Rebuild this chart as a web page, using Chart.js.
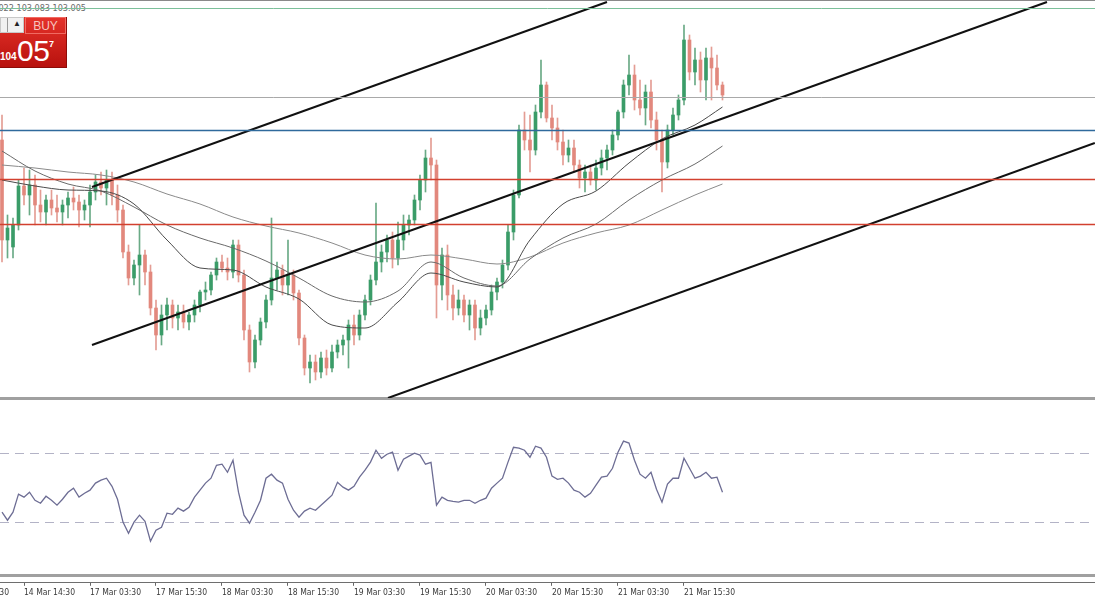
<!DOCTYPE html>
<html><head><meta charset="utf-8">
<script src="https://cdn.jsdelivr.net/npm/chart.js@4.4.1/dist/chart.umd.min.js"></script>
<style>
html,body{margin:0;padding:0;background:#fff;}
#wrap{position:relative;width:1095px;height:600px;overflow:hidden;background:#fff;}
canvas{position:absolute;left:0;}
#cMain{top:0;z-index:2}
#cRsi{top:400px;z-index:2}
#cAxis{top:540px;z-index:3}
.band{position:absolute;left:0;width:1095px;z-index:1}
#hdr{position:absolute;top:3px;right:1009px;white-space:nowrap;font:9px "DejaVu Sans Condensed","Liberation Sans Narrow",sans-serif;color:#6a6a6a;z-index:1}
#trade{position:absolute;left:0;top:17px;width:66px;height:50px;background:linear-gradient(#e5322a,#b8120e);border-bottom:1px solid #8e0c08;border-right:1px solid #8e0c08;z-index:5;font-family:"Liberation Sans",sans-serif;color:#fff;}
#spin{position:absolute;left:0;top:0;width:24px;height:16px;background:#f1f1f1;border:1px solid #c8c8c8;box-sizing:border-box}
#spin .sep{position:absolute;left:6px;top:0;width:1px;height:14px;background:#999}
#spin .up{position:absolute;left:12px;top:1px;font-size:8px;color:#222}
#buy{position:absolute;left:25px;top:0;width:41px;height:17px;box-sizing:border-box;border:1px solid #f06a62;text-align:center;line-height:16px;font-size:12px;color:#f7c4bf}
#p1{position:absolute;left:0;top:34px;font-size:10px;font-weight:bold}
#p2{position:absolute;left:17px;top:17px;font-size:30px;font-weight:300;letter-spacing:-0.5px}
#p3{position:absolute;left:49px;top:22px;font-size:9px;font-weight:bold}
</style></head>
<body><div id="wrap">
<div class="band" style="top:0;height:1px;background:#8a8a8a"></div>
<div id="hdr">103.022 103.083 103.005</div>
<div id="trade"><div id="spin"><div class="sep"></div><div class="up">&#9650;</div></div><div id="buy">BUY</div><div id="p1">104</div><div id="p2">05</div><div id="p3">7</div></div>
<canvas id="cMain" width="1095" height="398"></canvas>
<div class="band" style="top:397px;height:3px;background:#a0a0a0"></div>
<canvas id="cRsi" width="1095" height="175"></canvas>
<div class="band" style="top:574px;height:3px;background:#a0a0a0"></div>
<canvas id="cAxis" width="1095" height="60"></canvas>
</div>
<script>
// ---- data (H1 candles, index 0 .. 131) ----
const openP = [
103.910,103.610,103.589,103.655,103.772,103.745,103.775,103.715,103.694,103.730,
103.706,103.694,103.715,103.736,103.724,103.700,103.715,103.754,103.784,103.766,
103.790,103.745,103.700,103.574,103.496,103.535,103.565,103.514,103.406,103.325,
103.385,103.415,103.376,103.394,103.364,103.385,103.415,103.454,103.460,103.505,
103.544,103.526,103.514,103.595,103.505,103.340,103.244,103.310,103.364,103.430,
103.496,103.520,103.475,103.505,103.451,103.316,103.226,103.244,103.214,103.256,
103.226,103.274,103.295,103.310,103.355,103.325,103.385,103.430,103.490,103.544,
103.574,103.610,103.556,103.610,103.655,103.670,103.730,103.790,103.856,103.835,
103.475,103.565,103.445,103.406,103.430,103.385,103.415,103.346,103.376,103.400,
103.454,103.484,103.535,103.634,103.745,103.940,103.910,103.880,103.994,104.075,
103.976,103.946,103.904,103.865,103.886,103.835,103.796,103.814,103.790,103.826,
103.856,103.880,103.925,103.994,104.075,104.105,104.030,104.006,104.054,103.970,
103.910,103.844,103.940,103.985,104.030,104.210,104.114,104.150,104.090,104.156,
104.126,104.075];
const highP = [
103.985,103.685,103.676,103.790,103.826,103.820,103.805,103.760,103.745,103.760,
103.745,103.730,103.754,103.769,103.745,103.730,103.775,103.805,103.814,103.820,
103.814,103.775,103.715,103.595,103.550,103.655,103.580,103.535,103.430,103.415,
103.436,103.430,103.415,103.415,103.394,103.430,103.460,103.484,103.514,103.556,
103.565,103.556,103.610,103.610,103.520,103.355,103.325,103.376,103.445,103.676,
103.544,103.535,103.610,103.520,103.460,103.325,103.265,103.265,103.274,103.280,
103.295,103.310,103.325,103.370,103.385,103.400,103.445,103.505,103.721,103.595,
103.625,103.634,103.664,103.685,103.685,103.745,103.805,103.880,103.916,103.850,
103.586,103.595,103.475,103.460,103.445,103.430,103.430,103.400,103.415,103.475,
103.496,103.550,103.655,103.760,103.955,103.994,103.985,104.015,104.150,104.084,
104.015,103.976,103.940,103.910,103.910,103.850,103.835,103.835,103.850,103.880,
103.895,103.940,104.000,104.090,104.165,104.135,104.090,104.075,104.090,103.994,
103.940,103.955,104.006,104.045,104.255,104.225,104.186,104.174,104.186,104.189,
104.165,104.084];
const lowP = [
103.544,103.556,103.556,103.640,103.715,103.685,103.655,103.664,103.655,103.685,
103.664,103.655,103.676,103.700,103.649,103.670,103.649,103.730,103.745,103.715,
103.715,103.664,103.556,103.475,103.475,103.445,103.475,103.385,103.280,103.295,
103.340,103.346,103.340,103.346,103.340,103.364,103.394,103.430,103.445,103.490,
103.514,103.490,103.496,103.484,103.310,103.214,103.226,103.295,103.346,103.415,
103.460,103.445,103.445,103.430,103.295,103.205,103.181,103.190,103.196,103.205,
103.214,103.256,103.265,103.226,103.295,103.310,103.370,103.415,103.475,103.514,
103.544,103.526,103.535,103.580,103.625,103.655,103.700,103.754,103.790,103.376,
103.430,103.400,103.370,103.385,103.364,103.340,103.310,103.325,103.355,103.385,
103.430,103.466,103.520,103.610,103.736,103.880,103.814,103.865,103.976,103.964,
103.910,103.880,103.835,103.844,103.814,103.766,103.754,103.775,103.760,103.805,
103.820,103.865,103.910,103.976,104.045,104.000,103.985,103.955,103.946,103.880,
103.754,103.826,103.925,103.970,104.015,104.090,104.075,104.054,104.030,104.030,
104.060,104.030];
const closeP = [
103.610,103.646,103.655,103.772,103.745,103.775,103.715,103.694,103.730,103.706,
103.694,103.715,103.736,103.724,103.700,103.715,103.754,103.784,103.766,103.790,
103.745,103.700,103.574,103.496,103.535,103.565,103.514,103.406,103.325,103.385,
103.415,103.376,103.394,103.364,103.385,103.415,103.454,103.460,103.505,103.544,
103.526,103.514,103.595,103.505,103.340,103.244,103.310,103.364,103.430,103.496,
103.520,103.475,103.505,103.451,103.316,103.226,103.244,103.214,103.256,103.226,
103.274,103.295,103.310,103.355,103.325,103.385,103.430,103.490,103.544,103.574,
103.610,103.556,103.610,103.655,103.670,103.730,103.790,103.856,103.835,103.475,
103.565,103.445,103.406,103.430,103.385,103.415,103.346,103.376,103.400,103.454,
103.484,103.535,103.634,103.745,103.940,103.910,103.880,103.994,104.075,103.976,
103.946,103.904,103.865,103.886,103.835,103.796,103.814,103.790,103.826,103.856,
103.880,103.925,103.994,104.075,104.105,104.030,104.006,104.054,103.970,103.910,
103.844,103.940,103.985,104.030,104.210,104.114,104.150,104.090,104.156,104.126,
104.075,104.045];
const rsiValues = [
35.9,31.3,35.9,46.2,44.5,47.3,42.7,41.0,45.0,42.7,
39.9,43.3,47.3,49.6,44.5,46.7,48.5,52.5,54.2,55.3,
50.7,43.3,30.2,23.9,30.2,34.2,30.7,19.3,25.6,27.3,
35.3,34.7,38.2,36.5,38.7,44.5,48.5,52.5,55.3,62.7,
63.3,58.7,65.6,47.3,34.2,29.6,35.9,42.7,55.3,57.6,
54.2,52.5,43.3,37.0,33.0,36.5,38.2,37.0,39.9,42.7,
45.6,53.0,50.2,48.5,50.7,55.9,59.9,64.5,71.3,66.7,
69.0,70.2,59.9,66.2,67.9,69.6,68.5,63.3,64.4,39.9,
44.5,42.7,42.1,41.6,42.7,42.7,41.0,42.7,43.9,49.6,
52.5,55.3,64.5,73.0,72.5,71.3,67.3,73.6,72.5,67.3,
56.5,54.7,55.3,52.5,48.5,47.3,44.5,46.7,51.3,55.9,
56.5,61.0,70.2,76.5,75.4,65.6,57.6,55.3,58.7,49.0,
41.6,51.9,55.3,55.3,66.7,61.0,55.3,56.5,58.7,55.3,
55.9,47.3];
// moving averages read at every 6th candle
const maIndex = [0,6,12,18,24,30,36,42,48,54,60,66,72,78,84,90,96,102,108,114,120,126,131];
const maSlow = [103.835,103.826,103.814,103.805,103.784,103.748,103.718,103.679,103.652,103.631,103.601,103.565,103.553,103.565,103.553,103.538,103.559,103.601,103.631,103.655,103.700,103.745,103.778];
const maMid  = [103.877,103.817,103.778,103.757,103.709,103.655,103.616,103.586,103.547,103.496,103.442,103.424,103.457,103.544,103.496,103.472,103.553,103.616,103.658,103.730,103.790,103.838,103.892];
const maFast = [103.790,103.772,103.760,103.757,103.718,103.610,103.526,103.520,103.469,103.433,103.355,103.346,103.424,103.511,103.484,103.469,103.610,103.718,103.757,103.841,103.913,103.955,104.009];
// channel trend lines (bar index, price)
const channelStartIdx = [16.36, 16.36, 70.18];
const channelStartPrice = [103.769, 103.295, 103.136];
const channelEndIdx = [110.0, 190.0, 198.7];
const channelEndPrice = [104.324, 104.324, 103.901];
// horizontal levels
const levelPrices = [104.306, 104.039, 103.940, 103.793, 103.658];
const rsiLevels = [70, 30];
// time axis
const tickIndex = [-8,4,16,28,40,52,64,76,88,100,112,124];
const tickLabels = ["14 Mar 02:30","14 Mar 14:30","17 Mar 03:30","17 Mar 15:30","18 Mar 03:30","18 Mar 15:30","19 Mar 03:30","19 Mar 15:30","20 Mar 03:30","20 Mar 15:30","21 Mar 03:30","21 Mar 15:30"];

// ---- styles ----
const levelStyles = [
  {color:'#7cc09a', width:1},
  {color:'#a9a9a9', width:1},
  {color:'#2f6a9c', width:1.5},
  {color:'#d2402f', width:1.6},
  {color:'#d2402f', width:1.6}
];
const X_MIN = -0.364, X_MAX = 198.73;
const UP = '#3a9c68', DOWN = '#e2887d', UPW = '#6aaa86', DOWNW = '#e49d94';

const levelPlugin = {
  id: 'levels',
  beforeDatasetsDraw(chart, args, opts) { if (opts.layer === 'back') draw(chart, opts); },
  afterDatasetsDraw(chart, args, opts) { if (opts.layer !== 'back') draw(chart, opts); }
};
function draw(chart, opts) {
  const {ctx, chartArea: a, scales: {y}} = chart;
  (opts.lines || []).forEach(l => {
    const py = Math.round(y.getPixelForValue(l.value)) + 0.5;
    ctx.save();
    ctx.strokeStyle = l.color; ctx.lineWidth = l.width;
    if (l.dash) ctx.setLineDash(l.dash);
    ctx.beginPath(); ctx.moveTo(a.left, py); ctx.lineTo(a.right, py); ctx.stroke();
    ctx.restore();
  });
}

const isUp = closeP.map((c, i) => c >= openP[i]);
const wickData = closeP.map((c, i) => ({x: i, y: [lowP[i], highP[i]]}));
const bodyData = closeP.map((c, i) => ({x: i, y: [openP[i], c]}));
const maLine = arr => maIndex.map((ix, k) => ({x: ix, y: arr[k]}));

const hidden = {display: false};
const baseOpts = {
  responsive: false, animation: false, events: [],
  layout: {padding: 0, autoPadding: false}
};

new Chart(document.getElementById('cMain'), {
  type: 'bar',
  data: {
    datasets: [
      {type:'bar', data: wickData, backgroundColor: isUp.map(u => u ? UPW : DOWNW), barThickness: 1, grouped: false, order: 6, minBarLength: 1},
      {type:'bar', data: bodyData, backgroundColor: isUp.map(u => u ? UP : DOWN), barThickness: 3, grouped: false, order: 5, minBarLength: 1},
      {type:'line', data: maLine(maSlow), borderColor:'#8a8a8a', borderWidth:1, pointRadius:0, cubicInterpolationMode:'monotone', order:4},
      {type:'line', data: maLine(maMid), borderColor:'#6a6a6a', borderWidth:1, pointRadius:0, cubicInterpolationMode:'monotone', order:3},
      {type:'line', data: maLine(maFast), borderColor:'#4a4a4a', borderWidth:1, pointRadius:0, cubicInterpolationMode:'monotone', order:2},
      ...channelStartIdx.map((s, k) => ({type:'line', data: [{x: s, y: channelStartPrice[k]}, {x: channelEndIdx[k], y: channelEndPrice[k]}], borderColor:'#111', borderWidth:2, pointRadius:0, order:1}))
    ]
  },
  options: Object.assign({}, baseOpts, {
    plugins: {legend: hidden, tooltip: {enabled:false},
      levels: {layer:'front', lines: levelPrices.map((v, k) => Object.assign({value: v}, levelStyles[k]))}},
    scales: {
      x: {type:'linear', display:false, offset:false, min:X_MIN, max:X_MAX},
      y: {type:'linear', display:false, min:103.136, max:104.330}
    }
  }),
  plugins: [levelPlugin]
});

new Chart(document.getElementById('cRsi'), {
  type: 'line',
  data: {datasets: [{data: rsiValues.map((v, i) => ({x: i, y: v})), borderColor:'#6d6d94', borderWidth:1.3, pointRadius:0}]},
  options: Object.assign({}, baseOpts, {
    plugins: {legend: hidden, tooltip: {enabled:false},
      levels: {layer:'back', lines: rsiLevels.map(v => ({value: v, color:'#b3b3c6', width:1, dash:[9,6]}))}},
    scales: {
      x: {type:'linear', display:false, offset:false, min:X_MIN, max:X_MAX},
      y: {type:'linear', display:false, min:0, max:100}
    }
  }),
  plugins: [levelPlugin]
});

new Chart(document.getElementById('cAxis'), {
  type: 'scatter',
  data: {datasets: [{data: []}]},
  options: Object.assign({}, baseOpts, {
    layout: {padding: {left:0, right:0, top:0, bottom:0}, autoPadding: false},
    plugins: {legend: hidden, tooltip: {enabled:false}},
    scales: {
      x: {type:'linear', position:'bottom', offset:false, min:X_MIN, max:X_MAX,
        afterBuildTicks: s => { s.ticks = tickIndex.map(v => ({value: v})); },
        afterFit: s => { s.paddingLeft = 0; s.paddingRight = 0; },
        grid: {drawOnChartArea:false, drawTicks:true, tickLength:3, color:'#666'},
        border: {display:true, color:'#6e6e6e', width:1},
        ticks: {align:'start', autoSkip:false, maxRotation:0, minRotation:0, padding:2,
          color:'#3a3a3a', font:{family:'"DejaVu Sans Condensed",sans-serif', size:8.5},
          callback: (v, k) => tickLabels[k]}
      },
      y: {display:false, min:0, max:1}
    }
  })
});
</script>
</body></html>
